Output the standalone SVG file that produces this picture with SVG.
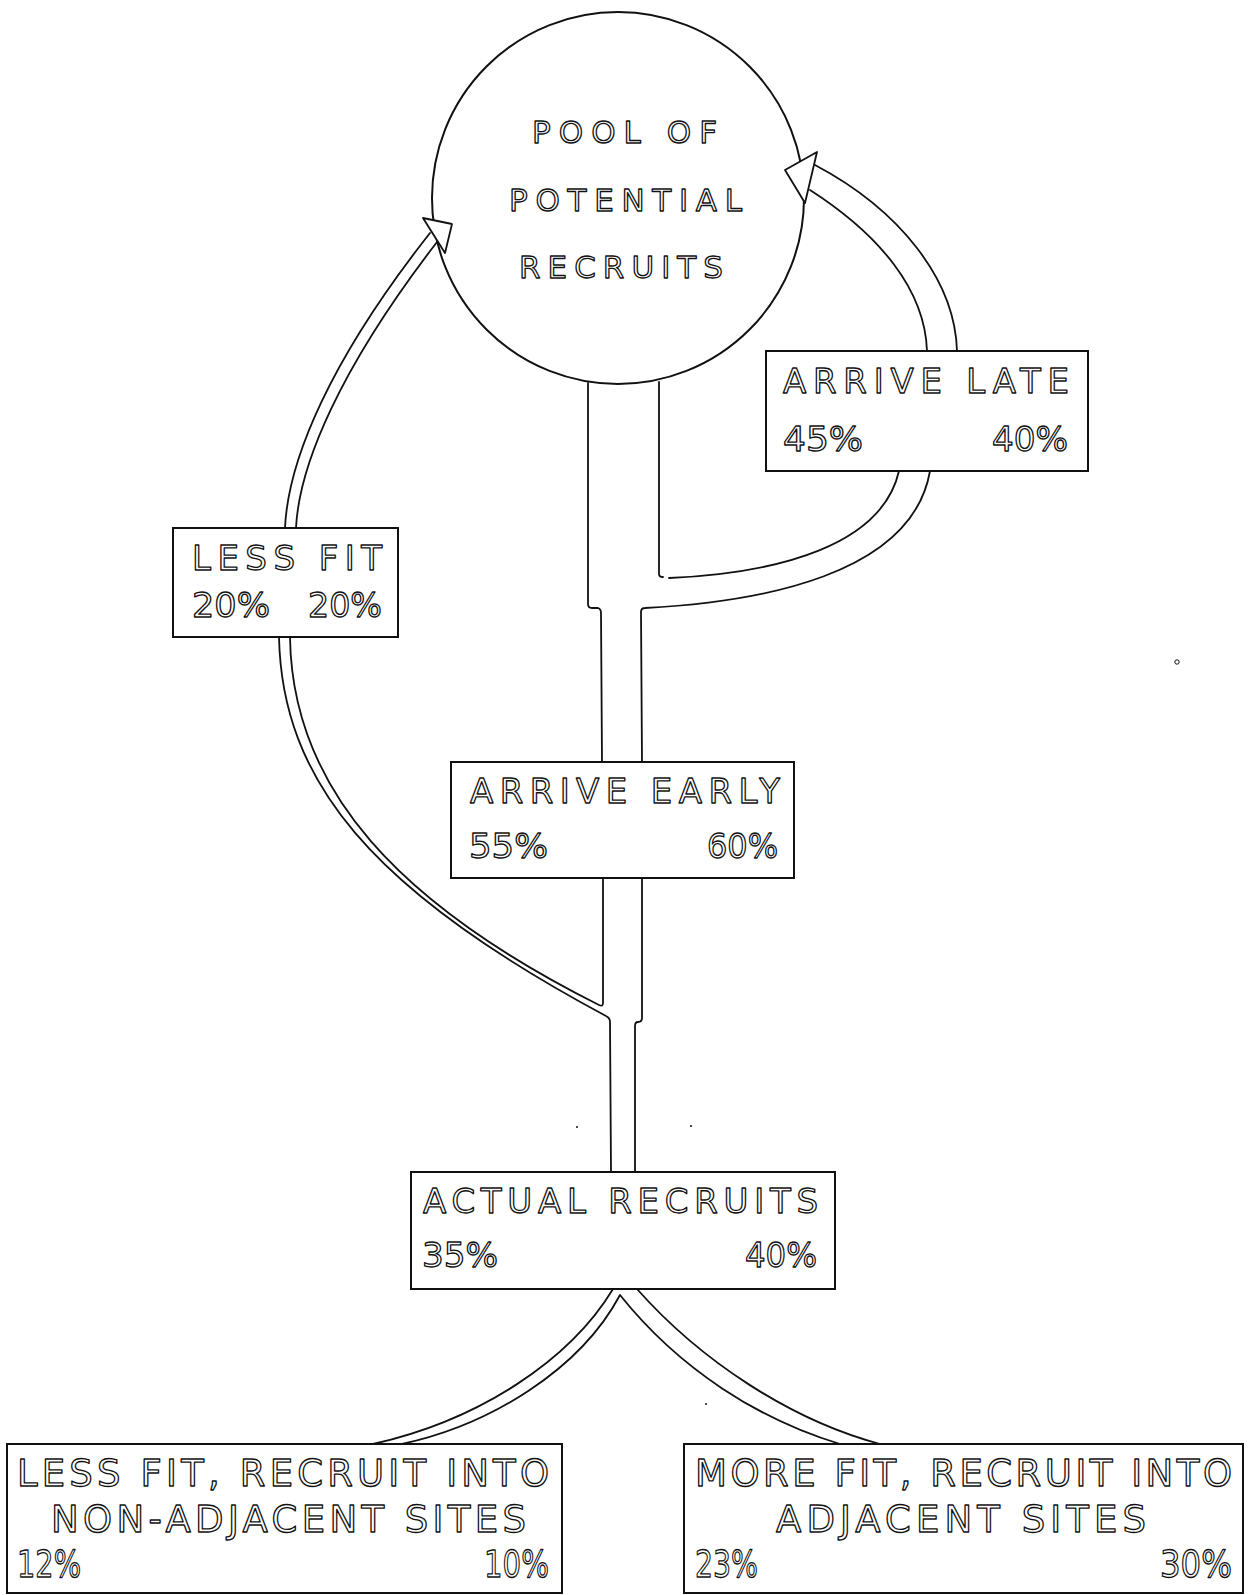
<svg xmlns="http://www.w3.org/2000/svg" width="1252" height="1595" viewBox="0 0 1252 1595">
<style>
.bg{fill:#ffffff}
.box{fill:#ffffff;stroke:#111;stroke-width:2}
.ln{fill:none;stroke:#111;stroke-width:1.8;stroke-linejoin:round;stroke-linecap:round}
.ah{fill:#ffffff;stroke:#111;stroke-width:1.8;stroke-linejoin:round}
.t{font-family:"DejaVu Sans","Liberation Sans",Arial,sans-serif;fill:#ffffff;stroke:#111;stroke-width:1.3;stroke-linejoin:round}
.s32{font-size:31px}
.s35{font-size:34px}
.s38{font-size:37px}
.dot{fill:#111}
</style>
<rect class="bg" x="0" y="0" width="1252" height="1595"/>

<g id="pool">
  <circle cx="618" cy="198" r="186" fill="#ffffff" stroke="#111" stroke-width="2"/>
  <text class="t s32" x="532" y="143" textLength="185" lengthAdjust="spacing">POOL OF</text>
  <text class="t s32" x="509" y="211" textLength="233" lengthAdjust="spacing">POTENTIAL</text>
  <text class="t s32" x="519" y="278" textLength="204" lengthAdjust="spacing">RECRUITS</text>
</g>

<g id="arrive-late">
  <rect class="box" x="766" y="351" width="322" height="120"/>
  <text class="t s35" x="783" y="393" textLength="286" lengthAdjust="spacing">ARRIVE LATE</text>
  <text class="t s35" x="783" y="451" textLength="80" lengthAdjust="spacingAndGlyphs">45%</text>
  <text class="t s35" x="992" y="451" textLength="76" lengthAdjust="spacingAndGlyphs">40%</text>
</g>

<g id="less-fit">
  <rect class="box" x="173" y="528" width="225" height="109"/>
  <text class="t s35" x="192" y="570" textLength="190" lengthAdjust="spacing">LESS FIT</text>
  <text class="t s35" x="192" y="617" textLength="78" lengthAdjust="spacingAndGlyphs">20%</text>
  <text class="t s35" x="308" y="617" textLength="74" lengthAdjust="spacingAndGlyphs">20%</text>
</g>

<g id="arrive-early">
  <rect class="box" x="451" y="762" width="343" height="116"/>
  <text class="t s35" x="470" y="803" textLength="310" lengthAdjust="spacing">ARRIVE EARLY</text>
  <text class="t s35" x="469" y="858" textLength="79" lengthAdjust="spacingAndGlyphs">55%</text>
  <text class="t s35" x="707" y="858" textLength="71" lengthAdjust="spacingAndGlyphs">60%</text>
</g>

<g id="actual-recruits">
  <rect class="box" x="411" y="1172" width="424" height="117"/>
  <text class="t s35" x="423" y="1213" textLength="395" lengthAdjust="spacing">ACTUAL RECRUITS</text>
  <text class="t s35" x="422" y="1267" textLength="76" lengthAdjust="spacingAndGlyphs">35%</text>
  <text class="t s35" x="745" y="1267" textLength="72" lengthAdjust="spacingAndGlyphs">40%</text>
</g>

<g id="less-fit-nonadjacent">
  <rect class="box" x="7" y="1444" width="555" height="149"/>
  <text class="t s38" x="17" y="1486" textLength="532" lengthAdjust="spacing">LESS FIT, RECRUIT INTO</text>
  <text class="t s38" x="51" y="1532" textLength="475" lengthAdjust="spacing">NON-ADJACENT SITES</text>
  <text class="t s38" x="17" y="1577" textLength="64" lengthAdjust="spacingAndGlyphs">12%</text>
  <text class="t s38" x="484" y="1577" textLength="65" lengthAdjust="spacingAndGlyphs">10%</text>
</g>

<g id="more-fit-adjacent">
  <rect class="box" x="684" y="1444" width="559" height="149"/>
  <text class="t s38" x="695" y="1486" textLength="537" lengthAdjust="spacing">MORE FIT, RECRUIT INTO</text>
  <text class="t s38" x="776" y="1532" textLength="370" lengthAdjust="spacing">ADJACENT SITES</text>
  <text class="t s38" x="695" y="1577" textLength="63" lengthAdjust="spacingAndGlyphs">23%</text>
  <text class="t s38" x="1160" y="1577" textLength="72" lengthAdjust="spacingAndGlyphs">30%</text>
</g>

<g id="connectors">
  <!-- trunk from pool down to arrive early -->
  <path class="ln" d="M588,383 L588,604 Q588,608 592,608 L598,608 Q601,609 601,613 L602,762"/>
  <path class="ln" d="M659,382 L659,574 Q659,577 663,577"/>
  <path class="ln" d="M642,762 L641,612 Q641,608 645,608 C760,602 912,575 930,471"/>
  <path class="ln" d="M669,578 C780,573 882,545 899,471"/>
  <!-- arrive late back to pool -->
  <path class="ln" d="M957,351 C955,280 900,210 815,165"/>
  <path class="ln" d="M927,351 C925,290 880,235 810,190"/>
  <polygon class="ah" points="785,170 817,152 805,203"/>
  <!-- less fit back to pool -->
  <path class="ln" d="M285,528 C288,460 330,360 430,233"/>
  <path class="ln" d="M296,528 C299,465 340,368 437,242"/>
  <polygon class="ah" points="452,224 423,218 445,253"/>
  <!-- arrive early to less fit / actual recruits -->
  <path class="ln" d="M603,878 L603,1003 Q603,1007 599,1005 C400,905 292,790 290,637"/>
  <path class="ln" d="M279,637 C282,780 370,890 606,1016 Q610,1018 610,1022 L611,1172"/>
  <path class="ln" d="M642,878 L642,1018 Q642,1022 638,1022 Q635,1022 635,1026 L635,1172"/>
  <!-- actual recruits split -->
  <path class="ln" d="M613,1289 C570,1360 480,1420 373,1444"/>
  <path class="ln" d="M402,1444 C490,1425 580,1370 620,1295 C680,1370 760,1420 840,1444"/>
  <path class="ln" d="M637,1289 C700,1360 790,1420 880,1444"/>
</g>

<circle cx="1177" cy="662" r="2.2" fill="none" stroke="#111" stroke-width="1"/>
<circle class="dot" cx="577" cy="1127" r="1"/>
<circle class="dot" cx="691" cy="1126" r="1"/>
<circle class="dot" cx="706" cy="1404" r="1"/>
</svg>
